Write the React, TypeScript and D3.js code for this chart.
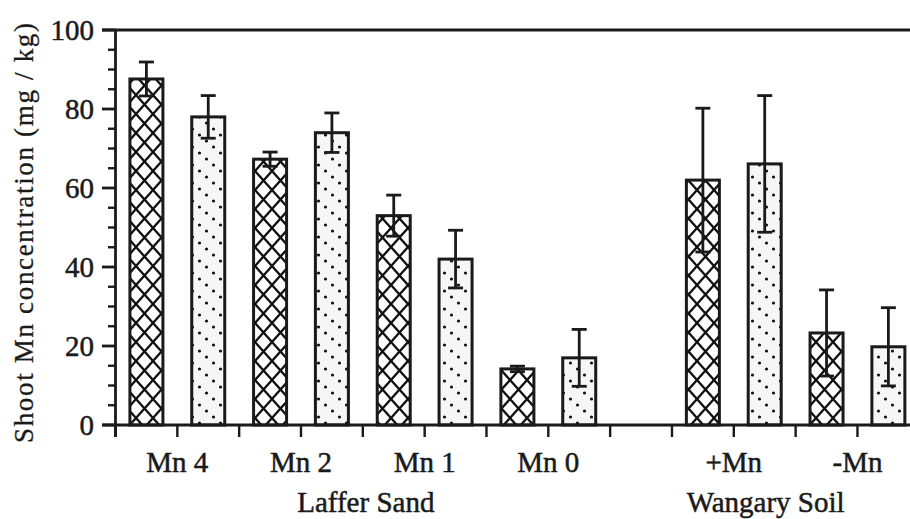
import React from "react";
import * as d3 from "d3";

// Shoot Mn concentration per treatment (mg / kg), two cultivars per treatment
const treatments = ["Mn 4", "Mn 2", "Mn 1", "Mn 0", "+Mn", "-Mn"];
const soils = ["Laffer Sand", "Laffer Sand", "Laffer Sand", "Laffer Sand", "Wangary Soil", "Wangary Soil"];
const crossValues = [87.6, 67.3, 53.0, 14.2, 62.0, 23.3];
const crossErrors = [4.3, 1.8, 5.2, 0.7, 18.2, 10.9];
const dotValues = [78.0, 74.0, 42.0, 17.0, 66.1, 19.8];
const dotErrors = [5.4, 5.0, 7.3, 7.2, 17.3, 9.9];
const yTicks = [0, 20, 40, 60, 80, 100];
const soilGroups = ["Laffer Sand", "Wangary Soil"];

const W = 910;
const H = 519;
const FONT = "Liberation Serif";

type Bar = { key: string; value: number; err: number; kind: "cross" | "dot" };

export default function App() {
  // slot order: two bars per treatment, with an empty slot between the two soils
  const bars: Bar[] = [];
  const slots: string[] = [];
  treatments.forEach((t, i) => {
    if (i > 0 && soils[i] !== soils[i - 1]) slots.push("gap");
    bars.push({ key: t + "|a", value: crossValues[i], err: crossErrors[i], kind: "cross" });
    bars.push({ key: t + "|b", value: dotValues[i], err: dotErrors[i], kind: "dot" });
    slots.push(t + "|a", t + "|b");
  });

  const x0 = 115.5;
  const step = 61.83;
  const x = d3
    .scaleBand<string>()
    .domain(slots)
    .range([x0, x0 + step * slots.length])
    .padding(0);
  const y = d3.scaleLinear().domain([0, 100]).range([425, 30]);

  const barW = 33;
  const axisX = x0;
  const minorTicks = d3.range(0, 101, 5).filter((v) => v % 20 !== 0);
  const boundaries = d3.range(0, slots.length + 1).map((i) => x0 + i * x.bandwidth());

  const treatCenter = (t: string) => x(t + "|a")! + x.bandwidth();
  const groupCenter = (g: string) => {
    const ts = treatments.filter((_, i) => soils[i] === g);
    const first = x(ts[0] + "|a")!;
    const last = x(ts[ts.length - 1] + "|b")! + x.bandwidth();
    return (first + last) / 2;
  };
  // the right-hand group label sits a little left of its bars
  const groupLabelX = (g: string) => (g === "Wangary Soil" ? groupCenter(g) - 30 : groupCenter(g) + 3);

  const ink = "#1a1a1a";

  return (
    <svg
      width={W}
      height={H}
      style={{ position: "absolute", left: 0, top: 0, background: "#fff" }}
    >
      <defs>
        <pattern id="cross" patternUnits="userSpaceOnUse" width={17} height={19}>
          <rect width={17} height={19} fill="#fff" />
          <path d="M0,0 L17,19 M17,0 L0,19" stroke="#111" strokeWidth={2.3} />
          <path d="M-2,17 L2,21 M15,-2 L19,2 M-2,2 L2,-2 M15,21 L19,17" stroke="#111" strokeWidth={2.3} />
        </pattern>
        <pattern id="dots" patternUnits="userSpaceOnUse" width={21} height={18}>
          <rect width={21} height={18} fill="#f6f6f6" />
          <circle cx={3.5} cy={3} r={1.6} fill="#111" />
          <circle cx={10.5} cy={9} r={1.6} fill="#111" />
          <circle cx={17.5} cy={15} r={1.6} fill="#111" />
        </pattern>
      </defs>

      {/* bars */}
      {bars.map((b) => {
        const cx = x(b.key)! + x.bandwidth() / 2;
        const top = y(b.value);
        return (
          <rect
            key={b.key}
            x={cx - barW / 2}
            y={top}
            width={barW}
            height={y(0) - top}
            fill={`url(#${b.kind === "cross" ? "cross" : "dots"})`}
            stroke={ink}
            strokeWidth={3}
          />
        );
      })}

      {/* error bars */}
      {bars.map((b) => {
        const cx = x(b.key)! + x.bandwidth() / 2;
        const hi = y(b.value + b.err);
        const lo = y(b.value - b.err);
        const cap = 7.5;
        return (
          <g key={"e" + b.key} stroke={ink} strokeWidth={2.8}>
            <line x1={cx} x2={cx} y1={hi} y2={lo} />
            <line x1={cx - cap} x2={cx + cap} y1={hi} y2={hi} />
            <line x1={cx - cap} x2={cx + cap} y1={lo} y2={lo} />
          </g>
        );
      })}

      {/* frame lines */}
      <g stroke={ink} strokeWidth={2.8}>
        <line x1={102} x2={W} y1={y(100)} y2={y(100)} />
        <line x1={axisX} x2={axisX} y1={y(100)} y2={y(0) + 12} />
        <line x1={102} x2={W} y1={y(0)} y2={y(0)} />
        {yTicks.map((v) => (
          <line key={"M" + v} x1={102} x2={axisX} y1={y(v)} y2={y(v)} />
        ))}
        {minorTicks.map((v) => (
          <line key={"m" + v} x1={108} x2={axisX} y1={y(v)} y2={y(v)} strokeWidth={2.4} />
        ))}
        {boundaries.map((bx, i) => (
          <line key={"x" + i} x1={bx} x2={bx} y1={y(0)} y2={y(0) + 12} strokeWidth={2.4} />
        ))}
      </g>

      <g style={{ fontFamily: FONT }} fill={ink} stroke={ink} strokeWidth={0.5}>
        {/* y tick labels */}
        {yTicks.map((v) => (
          <text key={"t" + v} x={94} y={y(v) + 10} textAnchor="end" fontSize={29}>
            {v}
          </text>
        ))}

        {/* treatment labels */}
        {treatments.map((t) => (
          <text key={"l" + t} x={treatCenter(t)} y={472} textAnchor="middle" fontSize={29}>
            {t}
          </text>
        ))}

        {/* soil group labels */}
        {soilGroups.map((g) => (
          <text key={g} x={groupLabelX(g)} y={512} textAnchor="middle" fontSize={29}>
            {g}
          </text>
        ))}

        {/* y axis title */}
        <text
          transform="translate(33, 233) rotate(-90)"
          textAnchor="middle"
          fontSize={27}
          textLength={420}
          lengthAdjust="spacing"
          strokeWidth={0.3}
        >
          Shoot Mn concentration (mg / kg)
        </text>
      </g>
    </svg>
  );
}
